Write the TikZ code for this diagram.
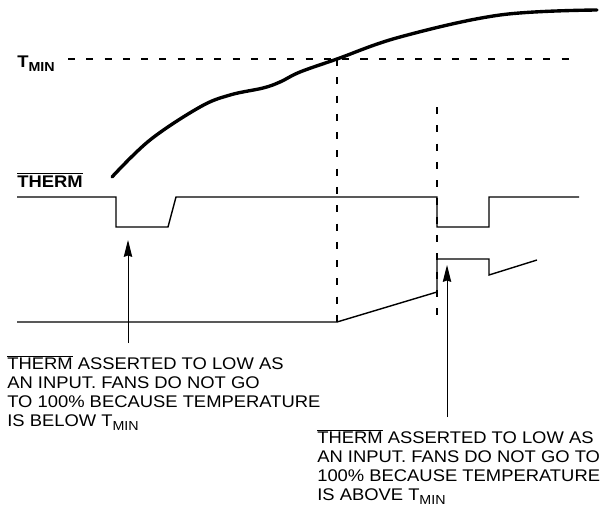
\documentclass[tikz,border=0pt]{standalone}
\usepackage{fontspec}
\setmainfont{Liberation Sans}[FakeStretch=1.09]
\usetikzlibrary{arrows.meta, positioning}
\newcommand{\thermbar}{$\overline{\mbox{THERM}}$}
\newcommand{\subtext}[1]{\raisebox{-3pt}{\fontsize{9.3}{10}\selectfont #1}}

\begin{document}
\begin{tikzpicture}[
  x=0.025cm, y=-0.025cm,
  sig/.style={line width=1pt},
  temp/.style={line width=2.4pt, line cap=round},
  guide/.style={line width=1pt, dash pattern=on 5pt off 8pt},
  arr/.style={-{Stealth[length=12pt, width=6pt, inset=1pt]}, line width=0.7pt, shorten <=8.5pt},
  lbl/.style={font=\fontsize{12}{13.3}\selectfont\bfseries, inner sep=0pt, anchor=base west},
  note/.style={font=\fontsize{12}{13.3}\selectfont, align=left, inner sep=0pt, anchor=base west}
]
\useasboundingbox (0,0) rectangle (605,507);

\node[lbl] (tmin) at (17,67) {T\subtext{MIN}};
\node[lbl] (therm) at (17,187) {\thermbar};

\coordinate (cross) at (337,59);
\coordinate (trig) at (437,107);
\coordinate (tip1) at (128,240);
\coordinate (tip2) at (447,265);

% temperature
\draw[guide] (68,59) -- (579,59);
\draw[temp] plot[smooth, tension=0.6] coordinates {(112,177) (150,140) (200,107) (230,95) (263,88) (280,82) (300,72) (cross) (400,37) (500,15) (597,10)};
\draw[guide] (cross) -- (337,322);
\draw[guide] (trig) -- (437,320);

% signals
\draw[sig] (17,197) -- (116,197) -- (116,227) -- (168,227) -- (176,197) -- (437,197)
  -- (437,227) -- (489,227) -- (489,197) -- (579,197);
\draw[sig] (17,322) -- (337,322) -- (437,292) -- (437,259) -- (489,259) -- (489,275) -- (537,260);

\node[note] (note1) at (7,426) {\thermbar{} ASSERTED TO LOW AS\\AN INPUT. FANS DO NOT GO\\TO 100\% BECAUSE TEMPERATURE\\IS BELOW T\subtext{MIN}};
\node[note] (note2) at (317,500) {\thermbar{} ASSERTED TO LOW AS\\AN INPUT. FANS DO NOT GO TO\\100\% BECAUSE TEMPERATURE\\IS ABOVE T\subtext{MIN}};

\draw[arr] (note1.north -| tip1) -- (tip1);
\draw[arr] (note2.north -| tip2) -- (tip2);

\end{tikzpicture}
\end{document}
